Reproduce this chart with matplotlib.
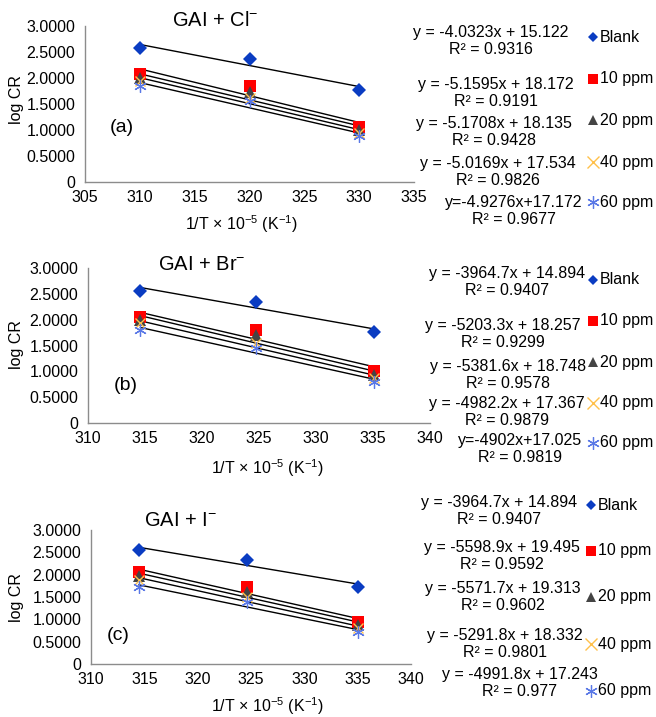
import numpy as np
import matplotlib
matplotlib.use("Agg")
import matplotlib.pyplot as plt
from matplotlib.lines import Line2D
from matplotlib.ticker import FuncFormatter

plt.rcParams["font.family"] = ["Liberation Sans", "DejaVu Sans"]
plt.rcParams["mathtext.fontset"] = "custom"
plt.rcParams["mathtext.rm"] = "Liberation Sans"
plt.rcParams["mathtext.it"] = "Liberation Sans:italic"

# ---------------- data ----------------
series = ["Blank", "10 ppm", "20 ppm", "40 ppm", "60 ppm"]

x_a = [310, 320, 330]
y_a = {
    "Blank":  [2.58, 2.37, 1.77],
    "10 ppm": [2.08, 1.85, 1.05],
    "20 ppm": [2.00, 1.74, 1.00],
    "40 ppm": [1.95, 1.62, 0.95],
    "60 ppm": [1.85, 1.55, 0.88],
}
eq_a = ["y = -4.0323x + 15.122\nR² = 0.9316",
        "y = -5.1595x + 18.172\nR² = 0.9191",
        "y = -5.1708x + 18.135\nR² = 0.9428",
        "y = -5.0169x + 17.534\nR² = 0.9826",
        "y=-4.9276x+17.172\nR² = 0.9677"]

x_b = [314.6, 324.7, 335.1]
y_b = {
    "Blank":  [2.56, 2.35, 1.76],
    "10 ppm": [2.05, 1.80, 1.00],
    "20 ppm": [2.00, 1.70, 0.93],
    "40 ppm": [1.93, 1.55, 0.88],
    "60 ppm": [1.80, 1.45, 0.80],
}
eq_b = ["y = -3964.7x + 14.894\nR² = 0.9407",
        "y = -5203.3x + 18.257\nR² = 0.9299",
        "y = -5381.6x + 18.748\nR² = 0.9578",
        "y = -4982.2x + 17.367\nR² = 0.9879",
        "y=-4902x+17.025\nR² = 0.9819"]

x_c = [314.5, 324.6, 335.0]
y_c = {
    "Blank":  [2.55, 2.33, 1.73],
    "10 ppm": [2.05, 1.72, 0.95],
    "20 ppm": [1.97, 1.62, 0.88],
    "40 ppm": [1.88, 1.50, 0.80],
    "60 ppm": [1.72, 1.38, 0.72],
}
eq_c = ["y = -3964.7x + 14.894\nR² = 0.9407",
        "y = -5598.9x + 19.495\nR² = 0.9592",
        "y = -5571.7x + 19.313\nR² = 0.9602",
        "y = -5291.8x + 18.332\nR² = 0.9801",
        "y = -4991.8x + 17.243\nR² = 0.977"]

titles = ["GAI + Cl$^{-}$", "GAI + Br$^{-}$", "GAI + I$^{-}$"]
tags = ["(a)", "(b)", "(c)"]

# ---------------- styles ----------------
styles = {
    "Blank":  dict(marker="D", color="#0a3cc2", ms=7.5, lms=5.5, mew=0),
    "10 ppm": dict(marker="s", color="#ff0000", ms=9, lms=7.5, mew=0),
    "20 ppm": dict(marker="^", color="#444444", ms=8, lms=7, mew=0),
    "40 ppm": dict(marker="x", color="#ffc04a", ms=7, lms=8, mew=1.0),
    "60 ppm": dict(marker=(6, 2, 0), color="#5a78e6", ms=9, lms=9, mew=0.9),
}

W, H = 656, 717
fig = plt.figure(figsize=(W / 100, H / 100), dpi=100)


def fx(px):
    return px / W


def fy(py):
    return 1 - py / H


# pixel boxes: left, right, top, bottom
panels = [
    dict(box=(85, 414, 26, 182), x=x_a, y=y_a, eq=eq_a, xlim=(305, 335),
         title_xy=(215, 21), tag_xy=(122, 127), xlabel_xy=(241, 224), ylabel_y=100,
         eq_xy=[(491, 41), (496, 93), (494, 132), (498, 172), (514, 211)],
         leg_x=593, leg_y=[37, 79, 120, 162, 202]),
    dict(box=(88, 430, 268, 423), x=x_b, y=y_b, eq=eq_b, xlim=(310, 340),
         title_xy=(202, 265), tag_xy=(126, 385), xlabel_xy=(267, 468), ylabel_y=345,
         eq_xy=[(507, 282), (503, 334), (508, 375), (507, 412), (520, 449)],
         leg_x=593, leg_y=[280, 321, 362, 403, 443]),
    dict(box=(91, 411, 530, 664), x=x_c, y=y_c, eq=eq_c, xlim=(310, 340),
         title_xy=(180, 520), tag_xy=(118, 635), xlabel_xy=(267, 706), ylabel_y=598,
         eq_xy=[(499, 511), (502, 556), (503, 597), (505, 644), (520, 683)],
         leg_x=591, leg_y=[505, 551, 597, 644, 691]),
]

yfmt = FuncFormatter(lambda v, _: "0" if v == 0 else f"{v:.4f}")

for i, p in enumerate(panels):
    l, r, t, b = p["box"]
    ax = fig.add_axes([fx(l), fy(b), (r - l) / W, (b - t) / H])
    xs = np.array(p["x"])
    for s in series:
        st = styles[s]
        ys = np.array(p["y"][s])
        ax.plot(xs, ys, linestyle="none", marker=st["marker"], ms=st["ms"],
                color=st["color"], mew=st["mew"], mec=st["color"], zorder=3)
        # linear trendline
        k, c = np.polyfit(xs, ys, 1)
        ax.plot([xs[0], xs[-1]], [k * xs[0] + c, k * xs[-1] + c],
                color="black", lw=1.0, zorder=2)

    ax.set_xlim(*p["xlim"])
    ax.set_ylim(0, 3)
    ax.set_xticks(np.arange(p["xlim"][0], p["xlim"][1] + 1, 5))
    ax.set_yticks(np.arange(0, 3.01, 0.5))
    ax.yaxis.set_major_formatter(yfmt)
    ax.tick_params(length=0, labelsize=11.5, pad=7)
    ax.tick_params(axis="x", pad=6)
    for sp in ["top", "right"]:
        ax.spines[sp].set_visible(False)
    for sp in ["left", "bottom"]:
        ax.spines[sp].set_color("#8c8c8c")
        ax.spines[sp].set_linewidth(1.0)
    ax.patch.set_alpha(0)

    fig.text(fx(p["title_xy"][0]), fy(p["title_xy"][1]), titles[i],
             ha="center", va="center", fontsize=14.5)
    fig.text(fx(p["tag_xy"][0]), fy(p["tag_xy"][1]), tags[i],
             ha="center", va="center", fontsize=14)
    fig.text(fx(p["xlabel_xy"][0]), fy(p["xlabel_xy"][1]),
             "1/T × 10$^{-5}$ (K$^{-1}$)", ha="center", va="center", fontsize=11.5)
    fig.text(fx(16), fy(p["ylabel_y"]), "log CR", rotation=90,
             ha="center", va="center", fontsize=11.5)

    for j, s in enumerate(series):
        ex, ey = p["eq_xy"][j]
        fig.text(fx(ex), fy(ey), p["eq"][j], ha="center", va="center",
                 fontsize=11.5, linespacing=1.1, multialignment="center")
        st = styles[s]
        fig.add_artist(Line2D([fx(p["leg_x"])], [fy(p["leg_y"][j])],
                              transform=fig.transFigure, linestyle="none",
                              marker=st["marker"], ms=st["lms"], color=st["color"],
                              mew=st["mew"], mec=st["color"]))
        fig.text(fx(p["leg_x"] + 7), fy(p["leg_y"][j]), s, ha="left",
                 va="center", fontsize=11.5)

fig.savefig("out.png", dpi=100)
